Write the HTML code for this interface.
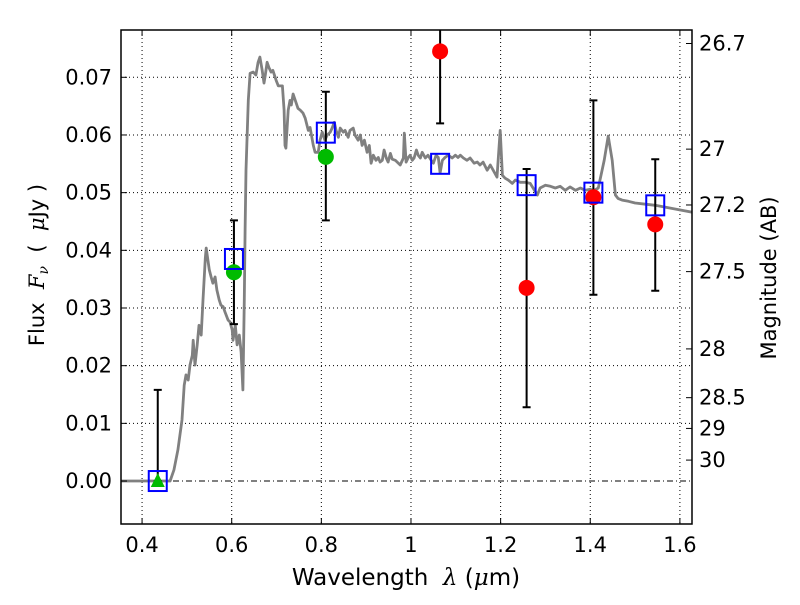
<!DOCTYPE html>
<html><head><meta charset="utf-8"><style>
html,body{margin:0;padding:0;background:#fff;}
svg text{font-family:"DejaVu Sans","Liberation Sans",sans-serif;}
</style></head><body>
<svg id="chart" width="800" height="600" xmlns="http://www.w3.org/2000/svg">
<defs><clipPath id="clip"><rect x="121" y="30" width="571" height="494"/></clipPath></defs>
<rect width="800" height="600" fill="#fff"/>
<g id="grid"></g>
<g id="marks" clip-path="url(#clip)"></g>
<rect x="121" y="30" width="571" height="494" fill="none" stroke="#000" stroke-width="1.5"/>
<g id="axes"></g>
<text x="406" y="585" font-size="23" text-anchor="middle" xml:space="preserve">Wavelength  <tspan font-style="italic" font-family="DejaVu Serif,serif">λ</tspan> (<tspan font-style="italic" font-family="DejaVu Serif,serif">μ</tspan>m)</text>
<text transform="translate(44,265) rotate(-90)" font-size="21" text-anchor="middle" xml:space="preserve">Flux  <tspan font-style="italic" font-family="DejaVu Serif,serif">F<tspan font-size="14" dy="4">ν</tspan></tspan><tspan dy="-4">  (  </tspan><tspan font-style="italic" font-family="DejaVu Serif,serif">μ</tspan>Jy )</text>
<text transform="translate(776,278) rotate(-90)" font-size="21" text-anchor="middle">Magnitude (AB)</text>
</svg>
<script>
const xTicks=[0.4,0.6,0.8,1.0,1.2,1.4,1.6];
const xTickLabels=["0.4","0.6","0.8","1","1.2","1.4","1.6"];
const yTicks=[0,0.01,0.02,0.03,0.04,0.05,0.06,0.07];
const yTickLabels=["0.00","0.01","0.02","0.03","0.04","0.05","0.06","0.07"];
const magTicks=[26.7,27,27.2,27.5,28,28.5,29,30];
const magTickLabels=["26.7","27","27.2","27.5","28","28.5","29","30"];
const specLam=[0.353,0.4625,0.471,0.480,0.489,0.494,0.498,0.503,0.507,0.512,0.514,0.518,0.523,0.527,0.532,0.536,0.541,0.543,0.547,0.550,0.554,0.558,0.563,0.567,0.572,0.576,0.581,0.585,0.592,0.596,0.601,0.603,0.608,0.612,0.617,0.621,0.625,0.628,0.630,0.632,0.637,0.641,0.648,0.654,0.659,0.663,0.668,0.672,0.675,0.679,0.683,0.688,0.692,0.699,0.704,0.713,0.717,0.719,0.721,0.726,0.730,0.733,0.737,0.742,0.748,0.753,0.759,0.764,0.771,0.775,0.782,0.786,0.793,0.797,0.802,0.808,0.813,0.820,0.824,0.829,0.833,0.838,0.842,0.849,0.853,0.860,0.864,0.871,0.875,0.882,0.887,0.891,0.896,0.902,0.907,0.911,0.916,0.922,0.927,0.931,0.936,0.940,0.945,0.949,0.954,0.958,0.965,0.976,0.983,0.985,0.989,0.994,0.998,1.003,1.007,1.012,1.016,1.021,1.025,1.032,1.038,1.045,1.050,1.056,1.061,1.065,1.070,1.076,1.083,1.092,1.099,1.105,1.110,1.117,1.125,1.132,1.141,1.148,1.154,1.161,1.170,1.177,1.192,1.199,1.204,1.210,1.217,1.226,1.233,1.244,1.255,1.266,1.282,1.288,1.300,1.311,1.322,1.333,1.344,1.355,1.367,1.378,1.389,1.400,1.407,1.418,1.431,1.440,1.449,1.456,1.462,1.471,1.485,1.500,1.523,1.545,1.567,1.601,1.628];
const specFlux=[0,0,0.0019,0.0054,0.0106,0.0166,0.0184,0.0175,0.0201,0.0218,0.0244,0.0201,0.0236,0.0270,0.0253,0.0314,0.0386,0.0404,0.0383,0.0366,0.0354,0.0343,0.0354,0.0331,0.0314,0.0305,0.0302,0.0293,0.0279,0.0276,0.0262,0.0244,0.0270,0.0236,0.0253,0.0224,0.0158,0.0314,0.0435,0.0539,0.0660,0.0707,0.0709,0.0704,0.0726,0.0735,0.0712,0.0690,0.0704,0.0726,0.0717,0.0709,0.0712,0.0695,0.0685,0.0685,0.0643,0.0582,0.0577,0.0643,0.0660,0.0652,0.0671,0.0660,0.0646,0.0643,0.0638,0.0629,0.0608,0.0613,0.0582,0.0570,0.0570,0.0591,0.0605,0.0591,0.0600,0.0605,0.0612,0.0622,0.0608,0.0596,0.0612,0.0605,0.0608,0.0596,0.0608,0.0612,0.0600,0.0591,0.0600,0.0582,0.0591,0.0570,0.0582,0.0551,0.0565,0.0556,0.0561,0.0553,0.0556,0.0574,0.0560,0.0553,0.0568,0.0558,0.0556,0.0548,0.0560,0.0603,0.0553,0.0561,0.0565,0.0556,0.0560,0.0574,0.0565,0.0560,0.0570,0.0560,0.0565,0.0556,0.0551,0.0565,0.0561,0.0534,0.0556,0.0561,0.0565,0.0560,0.0565,0.0561,0.0565,0.0560,0.0556,0.0560,0.0551,0.0553,0.0548,0.0553,0.0539,0.0548,0.0527,0.0608,0.0530,0.0525,0.0522,0.0516,0.0522,0.0518,0.0518,0.0516,0.0496,0.0508,0.0513,0.0511,0.0508,0.0511,0.0504,0.0510,0.0504,0.0508,0.0504,0.0506,0.0503,0.0508,0.0556,0.0598,0.0556,0.0496,0.0490,0.0487,0.0485,0.0482,0.0480,0.0478,0.0475,0.0470,0.0466];
const bandLam=[0.435,0.605,0.81,1.065,1.258,1.407,1.545];
const modelFlux=[0.0,0.0385,0.0604,0.0550,0.0513,0.0500,0.0478];
const obsFlux=[0.0,0.0362,0.0562,0.0745,0.0335,0.0492,0.0445];
const errLow=[0.0,0.0272,0.0452,0.0620,0.0128,0.0323,0.0330];
const errHigh=[0.0158,0.0452,0.0675,0.0850,0.0541,0.0660,0.0558];
const obsKind=["triangle","green","green","red","red","red","red"];

const X0=121,X1=692,Y0=30,Y1=524;
const xMin=0.353,xMax=1.627,yMin=-0.00745,yMax=0.0782;
const xs=v=>X0+(v-xMin)/(xMax-xMin)*(X1-X0);
const ys=v=>Y1-(v-yMin)/(yMax-yMin)*(Y1-Y0);
const NS="http://www.w3.org/2000/svg";
function mk(parent,tag,attrs){const e=document.createElementNS(NS,tag);for(const k in attrs)e.setAttribute(k,attrs[k]);document.getElementById(parent).appendChild(e);return e;}

xTicks.forEach((t,i)=>{
  const x=xs(t);
  const g=mk('grid','line',{x1:x,x2:x,y1:Y0,y2:Y1,stroke:'#000','stroke-width':1,'stroke-dasharray':'1,3'});
  
  
  mk('axes','line',{x1:x,x2:x,y1:Y1,y2:Y1-6,stroke:'#000'});
  mk('axes','line',{x1:x,x2:x,y1:Y0,y2:Y0+6,stroke:'#000'});
  const tx=mk('axes','text',{x:x,y:Y1+28,'font-size':21,'text-anchor':'middle'});
  tx.textContent=xTickLabels[i];
  
  
});
yTicks.forEach((t,i)=>{
  const y=ys(t);
  if(t!==0){
    const g=mk('grid','line',{x1:X0,x2:X1,y1:y,y2:y,stroke:'#000','stroke-width':1,'stroke-dasharray':'1,3'});
    
    
  }
  mk('axes','line',{x1:X0,x2:X0+6,y1:y,y2:y,stroke:'#000'});
  const tx=mk('axes','text',{x:X0-9,y:y+7,'font-size':21,'text-anchor':'end'});
  tx.textContent=yTickLabels[i];
  
  
});
magTicks.forEach((m,i)=>{
  const y=ys(Math.pow(10,(23.9-m)/2.5));
  mk('axes','line',{x1:X1,x2:X1-6,y1:y,y2:y,stroke:'#000'});
  const tx=mk('axes','text',{x:X1+7,y:y+7,'font-size':21,'text-anchor':'start'});
  tx.textContent=magTickLabels[i];
  
  
});
const zl=mk('marks','line',{x1:X0,x2:X1,y1:ys(0),y2:ys(0),stroke:'#000','stroke-width':1,'stroke-dasharray':'6,3,1,3'});



const sp=mk('marks','polyline',{points:specLam.map((l,i)=>xs(l).toFixed(1)+','+ys(specFlux[i]).toFixed(1)).join(' '),fill:'none',stroke:'#808080','stroke-width':2.8,'stroke-linejoin':'round'});



bandLam.forEach((l,i)=>{
  const x=xs(l);
  const eb=mk('marks','path',{d:`M${x},${ys(errLow[i])}V${ys(errHigh[i])}M${x-4},${ys(errLow[i])}h8M${x-4},${ys(errHigh[i])}h8`,stroke:'#000','stroke-width':2,fill:'none'});
  
  
});
bandLam.forEach((l,i)=>{
  const x=xs(l),y=ys(obsFlux[i]);
  let m;
  if(obsKind[i]==='triangle'){
    m=mk('marks','polygon',{points:`${x},${y-8} ${x-7},${y+6} ${x+7},${y+6}`,fill:'#00bb00'});
  }else{
    m=mk('marks','circle',{cx:x,cy:y,r:8,fill:obsKind[i]==='red'?'#ff0000':'#00bb00'});
  }
  
  
});
bandLam.forEach((l,i)=>{
  const x=xs(l),y=ys(modelFlux[i]);
  const s=mk('marks','rect',{x:x-9,y:y-10,width:18,height:20,fill:'none',stroke:'#0000ff','stroke-width':2});
  
  
});
</script>
</body></html>
